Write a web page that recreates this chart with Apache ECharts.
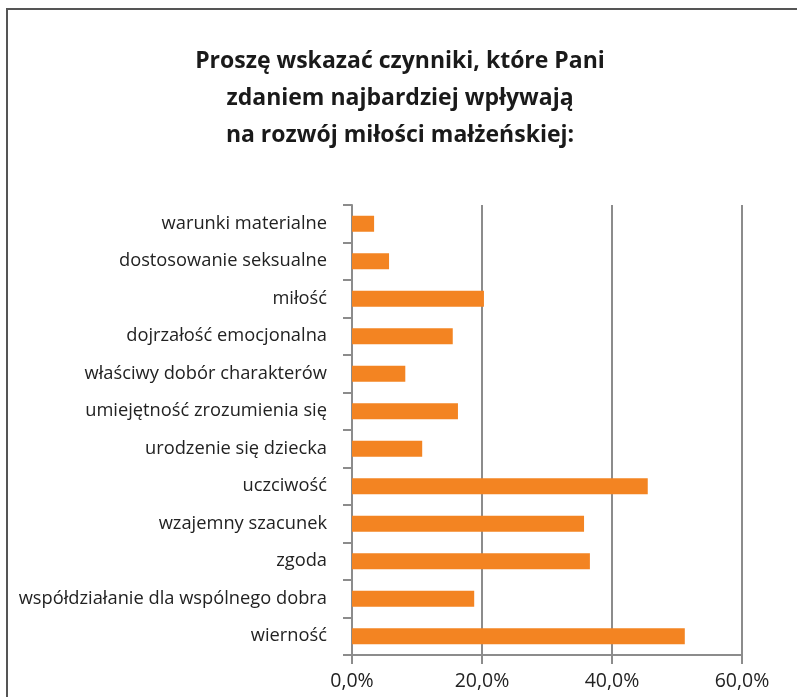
<!DOCTYPE html>
<html>
<head>
<meta charset="utf-8">
<script src="https://cdn.jsdelivr.net/npm/echarts@6/dist/echarts.min.js"></script>
<style>
html,body{margin:0;padding:0;background:#fff;}
#chart{width:797px;height:697px;}
</style>
</head>
<body>
<div id="chart"></div>
<script>
var categories = [
  "warunki materialne",
  "dostosowanie seksualne",
  "miłość",
  "dojrzałość emocjonalna",
  "właściwy dobór charakterów",
  "umiejętność zrozumienia się",
  "urodzenie się dziecka",
  "uczciwość",
  "wzajemny szacunek",
  "zgoda",
  "współdziałanie dla wspólnego dobra",
  "wierność"
];
var values = [3.4, 5.7, 20.3, 15.5, 8.2, 16.3, 10.8, 45.5, 35.7, 36.6, 18.8, 51.2];
var xTicks = [0, 20, 40, 60];
var titleText = "Proszę wskazać czynniki, które Pani\nzdaniem najbardziej wpływają\nna rozwój miłości małżeńskiej:";

var chart = echarts.init(document.getElementById('chart'), null, {renderer: 'canvas'});
var FONT = '"Open Sans", "DejaVu Sans", sans-serif';
chart.setOption({
  animation: false,
  backgroundColor: '#fff',
  title: {
    text: titleText,
    left: 395,
    textAlign: 'center',
    top: 38,
    textStyle: {fontFamily: FONT, fontWeight: 'bold', fontSize: 23, lineHeight: 37, color: '#1a1a1a'}
  },
  graphic: [{
    type: 'rect',
    shape: {x: 7, y: 9, width: 820, height: 720},
    style: {fill: 'none', stroke: '#555', lineWidth: 2},
    silent: true
  }],
  grid: {left: 352, right: 55, top: 205, bottom: 42, containLabel: false},
  xAxis: {
    type: 'value',
    min: xTicks[0],
    max: xTicks[xTicks.length - 1],
    interval: 20,
    axisLine: {show: true, lineStyle: {color: '#8c8c8c', width: 2}},
    axisTick: {show: true, length: 9, lineStyle: {color: '#8c8c8c', width: 2}},
    splitLine: {show: true, lineStyle: {color: '#8c8c8c', width: 2}},
    axisLabel: {
      fontFamily: FONT, fontSize: 19.5, color: '#222', margin: 16,
      formatter: function (v) { return v.toFixed(1).replace('.', ',') + '%'; }
    }
  },
  yAxis: {
    type: 'category',
    data: categories,
    inverse: true,
    axisLine: {show: true, lineStyle: {color: '#8c8c8c', width: 2}},
    axisTick: {show: true, length: 9, lineStyle: {color: '#8c8c8c', width: 2}},
    axisLabel: {fontFamily: FONT, fontSize: 18.3, color: '#222', margin: 25}
  },
  series: [{
    type: 'bar',
    data: values,
    barWidth: 16,
    itemStyle: {color: '#F38422'}
  }]
});
</script>
</body>
</html>
